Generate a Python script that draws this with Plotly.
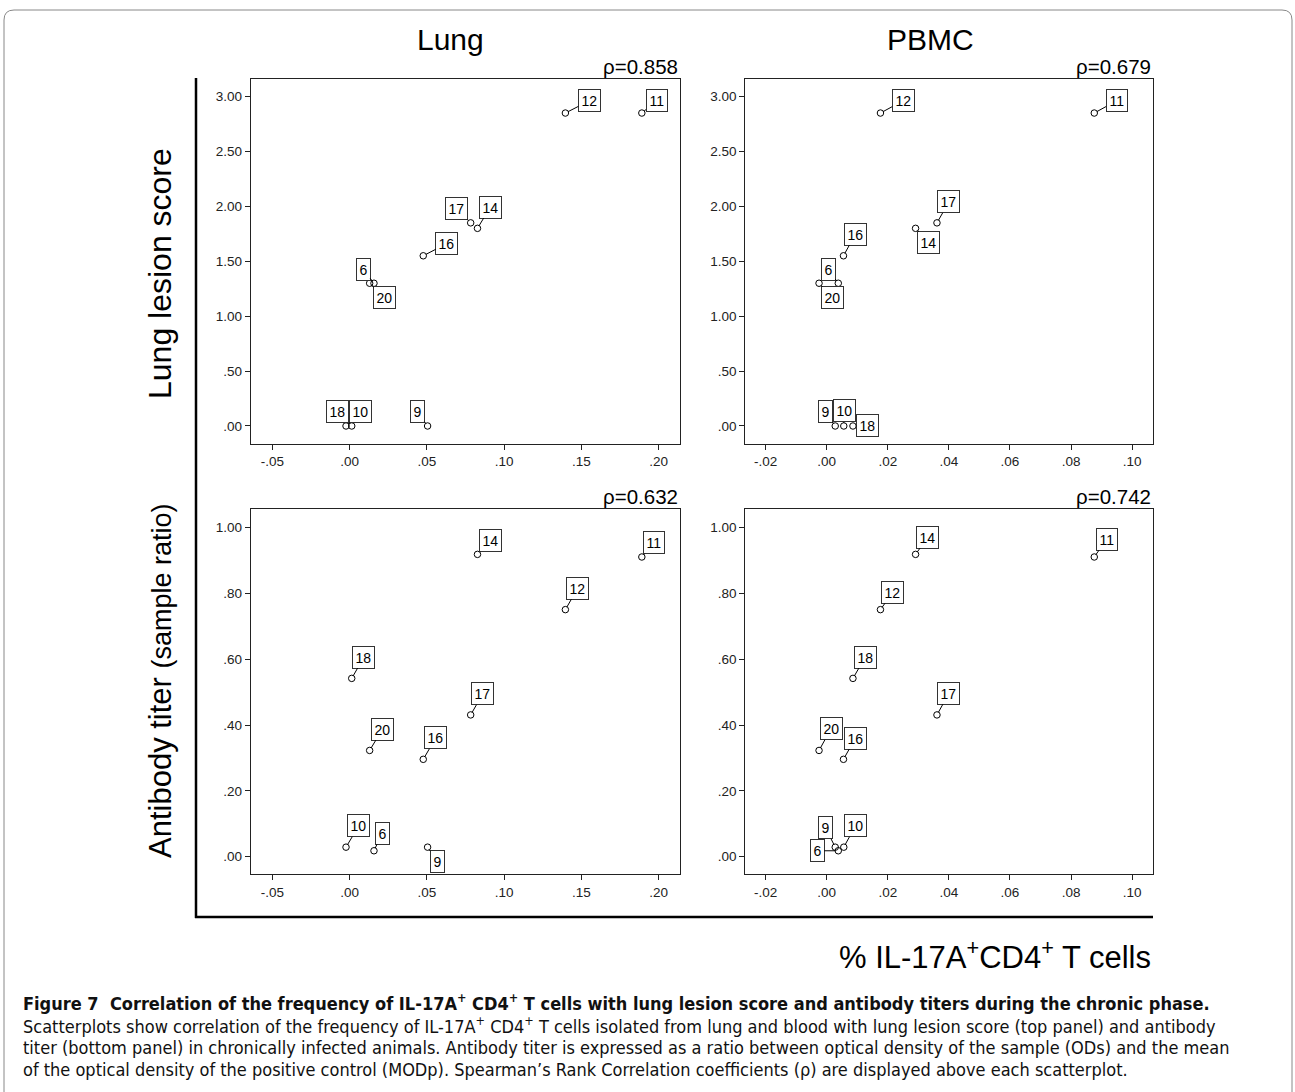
import plotly.graph_objects as go

# ---------------- data ----------------
animal_ids = ["6", "9", "10", "11", "12", "14", "16", "17", "18", "20"]
lung_il17 = [0.0158, 0.0505, -0.0023, 0.1892, 0.1397, 0.0828, 0.0477, 0.0784, 0.0014, 0.0130]
pbmc_il17 = [0.0038, 0.0028, 0.0056, 0.0876, 0.0176, 0.0291, 0.0055, 0.0361, 0.0086, -0.0025]
lesion_score = [1.30, 0.00, 0.00, 2.85, 2.85, 1.80, 1.55, 1.85, 0.00, 1.30]
antibody_titer = [0.018, 0.029, 0.029, 0.911, 0.751, 0.919, 0.296, 0.431, 0.542, 0.323]

rho_values = ["0.858", "0.679", "0.632", "0.742"]
column_titles = ["Lung", "PBMC"]

lung_ticks = [-0.05, 0.00, 0.05, 0.10, 0.15, 0.20]
lung_ticktext = ["-.05", ".00", ".05", ".10", ".15", ".20"]
pbmc_ticks = [-0.02, 0.00, 0.02, 0.04, 0.06, 0.08, 0.10]
pbmc_ticktext = ["-.02", ".00", ".02", ".04", ".06", ".08", ".10"]
lesion_ticks = [0, 0.5, 1.0, 1.5, 2.0, 2.5, 3.0]
lesion_ticktext = [".00", ".50", "1.00", "1.50", "2.00", "2.50", "3.00"]
titer_ticks = [0, 0.2, 0.4, 0.6, 0.8, 1.0]
titer_ticktext = [".00", ".20", ".40", ".60", ".80", "1.00"]

# label box offsets (pixels, box centre relative to point), per panel
label_offsets = {
    1: {"6": (-10.8, -14), "20": (15.2, 14.7), "9": (-10.1, -14), "10": (14.6, -14),
        "18": (-13.8, -14), "11": (14.7, -12.3), "12": (24, -12.3), "14": (12.9, -21.3),
        "16": (23.6, -12.3), "17": (-14.3, -14.3)},
    2: {"6": (-10, -14), "20": (13.7, 14.7), "9": (-9.7, -14.3), "10": (0.3, -15),
        "18": (14.7, 0), "11": (22.3, -12.3), "12": (22.7, -12.3), "14": (13.3, 14.3),
        "16": (12, -21.7), "17": (12, -21)},
    3: {"6": (8.2, -17.7), "9": (9.6, 14.5), "10": (12.9, -21.5), "11": (12, -14.3),
        "12": (12.3, -21.3), "14": (12.6, -13.7), "16": (12.6, -21.6), "17": (12.1, -21.2),
        "18": (12.2, -21.3), "20": (12.9, -21.4)},
    4: {"6": (-21, 0), "9": (-9.7, -19.3), "10": (11.7, -21.3), "11": (12.3, -17.7),
        "12": (12.3, -17.3), "14": (12.3, -17.3), "16": (12, -21.3), "17": (12, -21.7),
        "18": (12.3, -21.3), "20": (12, -21.7)},
}

W, H = 1295, 1092
def px(x):
    return x / W
def py(y):
    return 1 - y / H

# panel frames in pixels: (left, right, top, bottom)
frames = {
    1: (250.7, 680.0, 79.0, 444.0),
    2: (745.3, 1152.5, 79.0, 444.0),
    3: (250.7, 680.0, 509.3, 874.3),
    4: (745.3, 1152.5, 509.3, 874.3),
}

panels = {
    1: (lung_il17, lesion_score),
    2: (pbmc_il17, lesion_score),
    3: (lung_il17, antibody_titer),
    4: (pbmc_il17, antibody_titer),
}

fig = go.Figure()
TXT = "Liberation Sans, Arial, sans-serif"
annotations = []

def paper_text(x, y, text, size, **kw):
    d = dict(x=px(x), y=py(y), xref="paper", yref="paper", text=text, showarrow=False,
             xanchor="center", yanchor="middle",
             font=dict(family=kw.pop("family", TXT), size=size, color=kw.pop("color", "black")))
    d.update(kw)
    annotations.append(d)

for k in range(1, 5):
    xs, ys = panels[k]
    sfx = "" if k == 1 else str(k)
    fig.add_trace(go.Scatter(
        x=xs, y=ys, mode="markers",
        marker=dict(symbol="circle-open", size=6.5, color="black", line=dict(width=1)),
        xaxis="x" + sfx, yaxis="y" + sfx, showlegend=False, hoverinfo="skip"))
    for aid, xv, yv in zip(animal_ids, xs, ys):
        ax, ay = label_offsets[k][aid]
        annotations.append(dict(
            x=xv, y=yv, xref="x" + sfx, yref="y" + sfx, text=aid,
            showarrow=True, arrowhead=0, arrowwidth=1, arrowcolor="black",
            ax=ax, ay=ay, standoff=3, bgcolor="white",
            bordercolor="#333", borderwidth=1, borderpad=2.5,
            font=dict(family=TXT, size=14, color="black")))
    l, r, t, b = frames[k]
    paper_text(r, t, "\u03c1=" + rho_values[k - 1], 20.5, xanchor="right", yanchor="bottom", yshift=-1)

axis_common = dict(showline=True, mirror=True, linecolor="#222", linewidth=1,
                   ticks="outside", ticklen=5, tickwidth=1, tickcolor="#222",
                   showgrid=False, zeroline=False,
                   tickfont=dict(family=TXT, size=13.5, color="#222"))

layout_axes = {}
xinfo = {1: (lung_ticks, lung_ticktext, [-0.064, 0.2139]),
         2: (pbmc_ticks, pbmc_ticktext, [-0.02664, 0.10666]),
         3: (lung_ticks, lung_ticktext, [-0.064, 0.2139]),
         4: (pbmc_ticks, pbmc_ticktext, [-0.02664, 0.10666])}
yinfo = {1: (lesion_ticks, lesion_ticktext, [-0.164, 3.16]),
         2: (lesion_ticks, lesion_ticktext, [-0.164, 3.16]),
         3: (titer_ticks, titer_ticktext, [-0.0535, 1.056]),
         4: (titer_ticks, titer_ticktext, [-0.0535, 1.056])}
for k in range(1, 5):
    sfx = "" if k == 1 else str(k)
    l, r, t, b = frames[k]
    tv, tt, rg = xinfo[k]
    layout_axes["xaxis" + sfx] = dict(axis_common, domain=[px(l), px(r)], range=rg,
                                      tickvals=tv, ticktext=tt, anchor="y" + sfx)
    tv, tt, rg = yinfo[k]
    layout_axes["yaxis" + sfx] = dict(axis_common, domain=[py(b), py(t)], range=rg,
                                      tickvals=tv, ticktext=tt, anchor="x" + sfx)

# column titles
paper_text(450, 40, column_titles[0], 30)
paper_text(930, 40, column_titles[1], 30)
# y titles
paper_text(160, 274, "Lung lesion score", 32, textangle=-90)
paper_text(160, 681, "Antibody titer <span style='font-size:27px'>(sample ratio)</span>", 31, textangle=-90)
# x title
paper_text(1153, 955, "% IL-17A<sup>+</sup>CD4<sup>+</sup> T cells", 31, xanchor="right")

# caption
CAP = "Liberation Sans Narrow, Arial Narrow, DejaVu Sans Condensed, sans-serif"
cap_lines = [
    "<b>Figure 7  Correlation of the frequency of IL-17A<sup>+</sup> CD4<sup>+</sup> T cells with lung lesion score and antibody titers during the chronic phase.</b>",
    "Scatterplots show correlation of the frequency of IL-17A<sup>+</sup> CD4<sup>+</sup> T cells isolated from lung and blood with lung lesion score (top panel) and antibody",
    "titer (bottom panel) in chronically infected animals. Antibody titer is expressed as a ratio between optical density of the sample (ODs) and the mean",
    "of the optical density of the positive control (MODp). Spearman\u2019s Rank Correlation coefficients (\u03c1) are displayed above each scatterplot.",
]
cap_y = [1002, 1025, 1047, 1069]
for line, yy in zip(cap_lines, cap_y):
    paper_text(21, yy, line, 18, family=CAP, color="#111", xanchor="left")

shapes = [
    dict(type="line", xref="paper", yref="paper", x0=px(196), x1=px(196), y0=py(78), y1=py(918),
         line=dict(color="black", width=2.5)),
    dict(type="line", xref="paper", yref="paper", x0=px(195), x1=px(1153), y0=py(917), y1=py(917),
         line=dict(color="black", width=2.5)),
    dict(type="path", xref="paper", yref="paper",
         path=f"M {px(4)} {py(1100)} L {px(4)} {py(20)} Q {px(4)} {py(10)} {px(14)} {py(10)} "
              f"L {px(1282)} {py(10)} Q {px(1292)} {py(10)} {px(1292)} {py(20)} L {px(1292)} {py(1100)}",
         line=dict(color="#888", width=1)),
]

fig.update_layout(width=W, height=H, margin=dict(l=0, r=0, t=0, b=0),
                  paper_bgcolor="white", plot_bgcolor="white",
                  annotations=annotations, shapes=shapes, **layout_axes)
fig.write_html("out.html", config={"displayModeBar": False},
               post_script="document.body.style.margin='0';document.body.style.overflow='hidden';")
